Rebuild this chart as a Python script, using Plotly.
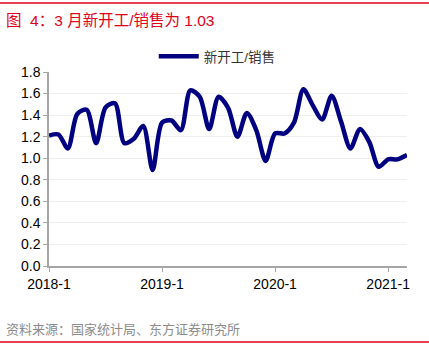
import plotly.graph_objects as go

months = [f"{y}-{m}" for y in (2018, 2019, 2020) for m in range(1, 13)] + ["2021-1", "2021-2", "2021-3"]
ratio = [1.21, 1.22, 1.09, 1.41, 1.45, 1.14, 1.47, 1.51, 1.14, 1.18, 1.30, 0.89,
         1.33, 1.35, 1.26, 1.63, 1.57, 1.27, 1.57, 1.47, 1.20, 1.42, 1.26, 0.975,
         1.23, 1.23, 1.33, 1.64, 1.49, 1.36, 1.58, 1.34, 1.09, 1.27, 1.15, 0.92,
         0.99, 0.99, 1.03]
tick_labels = ["2018-1", "2019-1", "2020-1", "2021-1"]
series_name = "新开工/销售"
title_text = "图&nbsp;&nbsp;4：3 月新开工/销售为 1.03"
source_text = "资料来源：国家统计局、东方证券研究所"

FONT = "Arial, 'Liberation Sans', 'Noto Sans CJK SC', sans-serif"
RED = "#e0001b"

fig = go.Figure()
fig.add_trace(go.Scatter(
    x=months, y=ratio, mode="lines", name=series_name,
    line=dict(color="#000080", width=4.5, shape="spline", smoothing=0.8),
))

fig.update_layout(
    width=429, height=350,
    margin=dict(l=49, r=22, t=72, b=84),
    paper_bgcolor="white", plot_bgcolor="white",
    font=dict(family=FONT, size=14, color="#000"),
    showlegend=True,
    legend=dict(orientation="h", x=0.47, xanchor="center", y=1.0, yanchor="bottom",
                font=dict(size=13.5, color="#333"), bgcolor="rgba(0,0,0,0)",
                itemwidth=40),
    xaxis=dict(
        type="category", range=[0, len(months) - 1],
        tickmode="array", tickvals=tick_labels, ticktext=tick_labels,
        showgrid=False, showline=True, linecolor="#a6a6a6", linewidth=1.5,
        ticks="outside", ticklen=4, tickcolor="#a6a6a6",
        tickfont=dict(size=14, color="#000"),
    ),
    yaxis=dict(
        range=[0, 1.8], dtick=0.2, tickformat=".1f",
        showgrid=True, gridcolor="#eeeeee", gridwidth=1,
        showline=True, linecolor="#a6a6a6", linewidth=1.5,
        ticks="outside", ticklen=4, tickcolor="#a6a6a6",
        tickfont=dict(size=14, color="#000"), zeroline=False,
    ),
    shapes=[
        dict(type="line", xref="paper", yref="paper", x0=-49/358, x1=(429-49)/358,
             y0=1 + (72-3)/194, y1=1 + (72-3)/194, line=dict(color=RED, width=1.5)),
        dict(type="line", xref="paper", yref="paper", x0=-49/358, x1=(429-49)/358,
             y0=-(342-266)/194, y1=-(342-266)/194, line=dict(color=RED, width=1.5)),
    ],
    annotations=[
        dict(text=title_text, xref="paper", yref="paper", x=-45/358, y=1 + (72-20)/194,
             xanchor="left", yanchor="middle", showarrow=False,
             font=dict(size=15.5, color=RED, family=FONT)),
        dict(text=source_text, xref="paper", yref="paper", x=-45/358, y=-(329-266)/194,
             xanchor="left", yanchor="middle", showarrow=False,
             font=dict(size=13, color="#8c8c8c", family=FONT)),
    ],
)

fig.write_html("out.html")
